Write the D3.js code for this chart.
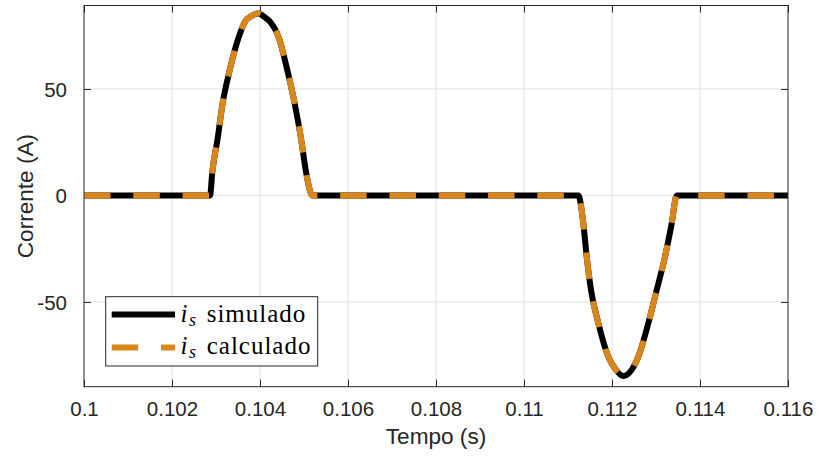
<!DOCTYPE html>
<html>
<head>
<meta charset="utf-8">
<script src="https://cdn.jsdelivr.net/npm/d3@7"></script>
<style>
  body { margin: 0; background: #fff; }
  svg { display: block; }
</style>
</head>
<body>
<div id="chart"></div>
<script>
// == DATA ==
// pontos (tempo em s, corrente em A)
const tempo = [
  0.1000, 0.102864, 0.102917, 0.103038, 0.103144, 0.103303, 0.103508, 0.103659, 0.103811,
  0.103962, 0.104114, 0.104227, 0.104432, 0.104629, 0.104795, 0.104932, 0.105045, 0.105190,
  0.111234, 0.111348, 0.111425, 0.111523, 0.111690, 0.111916, 0.112068, 0.112257,
  0.112447, 0.112598, 0.112825, 0.113016, 0.113205, 0.113357, 0.113470, 0.1160
];
const simulado = [
  0, 0, 11.2, 26.8, 42.5, 58.1, 73.8, 81.6, 84.3,
  85.4, 83.6, 81.6, 73.8, 58.1, 42.5, 26.8, 11.2, 0,
  0, -13.1, -28.7, -44.4, -60.0, -75.7, -81.3, -84.8,
  -81.9, -75.7, -60.0, -44.4, -28.7, -13.1, 0, 0
];
const calculado = [
  0, 0, 11.2, 26.8, 42.5, 58.1, 73.8, 81.6, 84.3,
  85.4, 83.6, 81.6, 73.8, 58.1, 42.5, 26.8, 11.2, 0,
  0, -13.1, -28.7, -44.4, -60.0, -75.7, -81.3, -84.8,
  -81.9, -75.7, -60.0, -44.4, -28.7, -13.1, 0, 0
];
const xTicks = [0.1, 0.102, 0.104, 0.106, 0.108, 0.11, 0.112, 0.114, 0.116];
const xTickLabels = ['0.1', '0.102', '0.104', '0.106', '0.108', '0.11', '0.112', '0.114', '0.116'];
const yTicks = [-50, 0, 50];
const yTickLabels = ['-50', '0', '50'];

// == CONFIG ==
const W = 817, H = 458;
const LEFT = 84, RIGHT = 788, TOP = 5.5, BOTTOM = 386.7;
const AXIS_COLOR = '#262626';
const GRID_COLOR = '#e0e0e0';
const ORANGE = '#d9861c';
const LINE_W = 6;
const DASH = '26.5,22.8';
const TICK_LEN = 7;
const SANS = '"Liberation Sans", Arial, Helvetica, sans-serif';
const SERIF = '"Liberation Serif", "Times New Roman", serif';

// == SETUP ==
const svg = d3.select('#chart')
  .append('svg')
  .attr('width', W)
  .attr('height', H);

svg.append('rect').attr('width', W).attr('height', H).attr('fill', '#fff');

const x = d3.scaleLinear().domain([0.1, 0.116]).range([LEFT, RIGHT]);
const y = d3.scaleLinear().domain([-89.8, 89.2]).range([BOTTOM, TOP]);

// Grid
const gGrid = svg.append('g');
gGrid.selectAll('line.gx').data(xTicks.slice(1, -1)).enter().append('line')
  .attr('x1', d => x(d)).attr('x2', d => x(d))
  .attr('y1', TOP).attr('y2', BOTTOM)
  .attr('stroke', GRID_COLOR).attr('stroke-width', 1);
gGrid.selectAll('line.gy').data(yTicks).enter().append('line')
  .attr('x1', LEFT).attr('x2', RIGHT)
  .attr('y1', d => y(d)).attr('y2', d => y(d))
  .attr('stroke', GRID_COLOR).attr('stroke-width', 1);

// Axes (ticks inside, box on)
const fmtX = d => xTickLabels[xTicks.indexOf(d)];
const fmtY = d => yTickLabels[yTicks.indexOf(d)];

const axBottom = svg.append('g')
  .attr('transform', `translate(0,${BOTTOM})`)
  .call(d3.axisBottom(x).tickValues(xTicks).tickFormat(fmtX).tickSizeInner(-TICK_LEN).tickSizeOuter(0));
const axTop = svg.append('g')
  .attr('transform', `translate(0,${TOP})`)
  .call(d3.axisTop(x).tickValues(xTicks).tickFormat('').tickSizeInner(-TICK_LEN).tickSizeOuter(0));
const axLeft = svg.append('g')
  .attr('transform', `translate(${LEFT},0)`)
  .call(d3.axisLeft(y).tickValues(yTicks).tickFormat(fmtY).tickSizeInner(-TICK_LEN).tickSizeOuter(0).tickPadding(TICK_LEN + 10));
const axRight = svg.append('g')
  .attr('transform', `translate(${RIGHT},0)`)
  .call(d3.axisRight(y).tickValues(yTicks).tickFormat('').tickSizeInner(-TICK_LEN).tickSizeOuter(0));

[axBottom, axTop, axLeft, axRight].forEach(g => {
  g.select('.domain').remove();
  g.selectAll('.tick line').attr('stroke', AXIS_COLOR).attr('stroke-width', 1);
  g.selectAll('.tick text')
    .attr('fill', AXIS_COLOR)
    .attr('font-family', SANS)
    .attr('font-size', '20.5px');
});
axBottom.selectAll('.tick text').attr('dy', null).attr('y', 416.5 - BOTTOM);
axLeft.selectAll('.tick text').attr('dy', '0.36em');

// == CURVES ==
const line = d3.line()
  .x(d => x(d[0]))
  .y(d => y(d[1]))
  .curve(d3.curveMonotoneX);

const gPlot = svg.append('g');

gPlot.append('path')
  .datum(tempo.map((t, i) => [t, simulado[i]]))
  .attr('d', line)
  .attr('fill', 'none')
  .attr('stroke', '#000')
  .attr('stroke-width', LINE_W)
  .attr('stroke-linejoin', 'miter');

gPlot.append('path')
  .datum(tempo.map((t, i) => [t, calculado[i]]))
  .attr('d', line)
  .attr('fill', 'none')
  .attr('stroke', ORANGE)
  .attr('stroke-width', LINE_W)
  .attr('stroke-dasharray', DASH);

// Box
svg.append('rect')
  .attr('x', LEFT).attr('y', TOP)
  .attr('width', RIGHT - LEFT).attr('height', BOTTOM - TOP)
  .attr('fill', 'none')
  .attr('stroke', AXIS_COLOR)
  .attr('stroke-width', 1);

// == LABELS ==
svg.append('text')
  .attr('x', (LEFT + RIGHT) / 2)
  .attr('y', 444)
  .attr('text-anchor', 'middle')
  .attr('fill', AXIS_COLOR)
  .attr('font-family', SANS)
  .attr('font-size', '22.6px')
  .text('Tempo (s)');

svg.append('text')
  .attr('transform', `translate(33,${(TOP + BOTTOM) / 2}) rotate(-90)`)
  .attr('text-anchor', 'middle')
  .attr('fill', AXIS_COLOR)
  .attr('font-family', SANS)
  .attr('font-size', '22.6px')
  .text('Corrente (A)');

// == LEGEND ==
const legend = svg.append('g');
legend.append('rect')
  .attr('x', 105.7).attr('y', 296.7)
  .attr('width', 212).attr('height', 69.3)
  .attr('fill', '#fff')
  .attr('stroke', AXIS_COLOR)
  .attr('stroke-width', 1);

const legendItems = [
  { label: 'simulado', color: '#000', dash: null, ly: 314.5, ty: 322 },
  { label: 'calculado', color: ORANGE, dash: DASH, ly: 347.5, ty: 354 }
];

legendItems.forEach(it => {
  legend.append('line')
    .attr('x1', 111.7).attr('x2', 175)
    .attr('y1', it.ly).attr('y2', it.ly)
    .attr('stroke', it.color)
    .attr('stroke-width', LINE_W)
    .attr('stroke-dasharray', it.dash);
  legend.append('text')
    .attr('x', 180.5).attr('y', it.ty)
    .attr('font-family', SERIF).attr('font-style', 'italic')
    .attr('font-size', '25px').attr('fill', '#000')
    .text('i');
  legend.append('text')
    .attr('x', 189).attr('y', it.ty + 4)
    .attr('font-family', SERIF).attr('font-style', 'italic')
    .attr('font-size', '18px').attr('fill', '#000')
    .text('s');
  legend.append('text')
    .attr('x', 206.7).attr('y', it.ty)
    .attr('font-family', SERIF)
    .attr('font-size', '25px').attr('letter-spacing', '1px').attr('fill', '#000')
    .text(it.label);
});
</script>
</body>
</html>
